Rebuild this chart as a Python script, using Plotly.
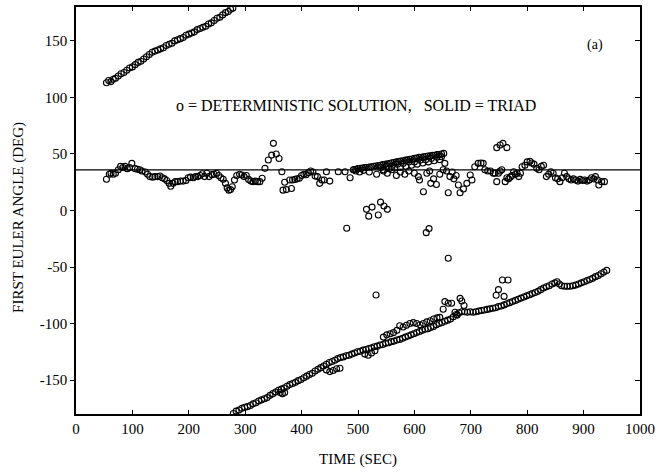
import plotly.graph_objects as go

# ---- data (time in sec, first Euler angle in deg) ----
upper_t = [54, 58, 62, 66, 70, 75, 80, 85, 90, 95, 100, 105, 110, 115, 120, 125, 130,
           135, 140, 145, 150, 155, 160, 165, 170, 175, 180, 185, 190, 195, 200, 205,
           210, 215, 220, 225, 230, 235, 240, 245, 250, 255, 260, 265, 270, 274, 278]
upper_deg = [113, 115, 114, 116, 117, 119, 121, 122, 124, 126, 127, 129, 131, 132, 134,
             136, 138, 140, 141, 142, 143, 144, 146, 147, 148, 150, 151, 152, 153, 155,
             156, 157, 158, 160, 161, 162, 163, 165, 166, 168, 170, 171, 173, 175, 176,
             178, 179]

mid_t = [54, 59, 62, 66, 70, 75, 79, 83, 87, 91, 95, 99, 105, 109, 113, 117, 123, 127,
         131, 136, 140, 145, 149, 153, 157, 161, 165, 168, 172, 176, 180, 185, 190, 195,
         199, 203, 208, 212, 216, 220, 224, 228, 232, 236, 241, 245, 249, 253, 257, 261,
         265, 268, 271, 274, 277, 281, 285, 290, 294, 298, 302, 306, 310, 314, 318, 322,
         326, 330, 335, 341, 347, 350, 355, 360, 365, 367, 370, 373, 379, 382, 384, 388,
         392, 396, 400, 404, 408, 412, 416, 420, 424, 428, 432, 436, 440, 444, 450, 465,
         477, 486, 492, 496, 503, 510, 520, 533, 545, 552, 560, 568, 575, 583, 590, 600,
         607, 609, 616, 622, 627, 629, 634, 639, 645, 651, 654, 657, 660, 663, 667, 670,
         674, 678, 681, 687, 693, 699, 702, 707, 713, 718, 722, 725, 730, 735, 740, 743,
         746, 749, 752, 755, 761, 764, 767, 770, 773, 776, 779, 782, 785, 788, 791, 796,
         800, 805, 808, 812, 817, 821, 825, 829, 834, 838, 842, 846, 850, 854, 858, 862,
         866, 870, 874, 878, 882, 886, 890, 894, 898, 902, 906, 910, 914, 918, 921, 925,
         927, 932, 937]
mid_deg = [27.6, 32, 33, 32, 33, 36, 39, 38, 39, 37, 38, 41.7, 37, 36.5, 36, 35, 34, 32,
           30, 29.5, 30, 30, 30.5, 29, 28, 26.5, 24, 21.5, 24, 25.5, 25.5, 26, 26, 26.5,
           29, 29.5, 29, 30, 30, 31, 32.5, 30, 33, 30, 31.7, 32, 33, 31, 29, 27.6,
           24, 20, 18, 18.5, 21, 27, 31, 32, 31.4, 30, 31, 27.5, 26, 25.5, 26, 25.5,
           25.5, 28.5, 37.3, 44.7, 49, 59.4, 50, 46, 34.3, 18, 25, 18.5, 27, 19.4, 27, 27.5,
           28, 28.5, 31, 32, 31.7, 33.5, 35, 34, 30.5, 30, 24, 27, 27, 34.3, 26, 34.3,
           34.3, 29, 36, 35, 34, 35.5, 34, 32, 35, 33, 36, 31, 34, 32, 35, 33,
           30, 27, 16.6, 33, 35, 24, 28, 23, 32, 36, 41.7, 35, 15.7, 30, 34, 28,
           31, 22.5, 15.7, 19, 24, 31.4, 27, 38.7, 41.7, 42, 41.7, 36, 35, 35, 33, 32.9,
           25.5, 33, 35, 36, 25.5, 29, 28, 29.5, 31, 34.3, 32, 33, 30, 33, 38.7, 40,
           43, 43.5, 42, 41, 37.3, 36, 39, 40, 30, 32, 34.3, 33, 29, 28, 25.5, 29,
           33, 30, 28, 27, 28, 27, 26, 27.5, 26.5, 27, 26, 27, 29, 28, 30, 27,
           22.5, 25.5, 25.5]

# rising dense band between 490 and 655 s
band_t = [492, 496, 500, 504, 508, 512, 516, 520, 524, 528, 532, 536, 540, 544, 548, 552,
          556, 560, 564, 568, 572, 576, 580, 584, 588, 592, 596, 600, 604, 608, 612, 616,
          620, 624, 628, 632, 636, 640, 644, 648, 652,
          540, 550, 560, 570, 580, 590, 600, 610, 620, 630, 640, 648,
          545, 555, 565, 575, 585, 595, 605, 615, 625, 635, 645]
band_deg = [36, 36.5, 37, 37.4, 37.5, 38, 38, 38.5, 38.6, 39.2, 39.3, 39.8, 40, 40.6, 40.8,
            41.4, 41.6, 42.2, 42.4, 43, 43.2, 43.8, 44, 44.6, 44.8, 45.3, 45.6, 46.2, 46.4,
            47, 47.1, 47.6, 47.7, 48.2, 48.3, 48.8, 48.9, 49.4, 49.5, 50, 50.5,
            38, 39, 39, 41, 41.5, 43, 43, 44.5, 45, 46, 47, 47.5,
            36, 37, 37.5, 38, 39, 40, 41, 42, 43, 44, 45]

# isolated points
odd_t = [480, 515, 519, 525, 536, 540, 546, 552, 621, 626, 660, 532,
         746, 752, 757, 764]
odd_deg = [-15.7, 1, -5, 3, -4, 7.4, 4, 1, -19.6, -16, -42.3, -74.7,
           55.6, 58, 59.4, 55.6]

lower_t = [279, 284, 289, 294, 299, 304, 309, 314, 319, 324, 329, 334, 339, 344, 349,
           354, 359, 364, 369, 374, 379, 384, 389, 394, 399, 404, 409, 414, 419, 424,
           429, 434, 439, 444, 449, 454, 459, 464, 469, 474, 479, 484, 489, 494, 499,
           504, 509, 514, 519, 524, 529, 534, 539, 544, 549, 554, 559, 564, 569, 574,
           579, 584, 589, 594, 599, 604, 609, 614, 619, 624, 629, 634, 639, 644, 649,
           654, 659, 664, 669, 674, 679, 684, 689, 694, 699, 704, 709, 714, 719, 724,
           729, 734, 739, 744, 749, 754, 759, 764, 769, 774, 779, 784, 789, 794, 799,
           804, 809, 814, 819, 824, 829, 834, 839, 844, 849, 853, 857, 861, 866, 871,
           876, 881, 886, 891, 896, 901, 906, 911, 916, 921, 926, 931, 936, 941]
lower_deg = [-179.5, -177.5, -176.5, -175, -174, -173.5, -172.5, -171, -170, -168.5,
             -167.5, -166.5, -165.5, -163.5, -162, -160.5, -159, -158, -157, -155.5,
             -154, -153, -152, -150.5, -149.5, -148, -146.5, -145, -144, -142,
             -140.5, -139, -137.5, -136, -134.5, -133.5, -132.5, -131, -130, -129.5,
             -128.5, -128, -127, -126, -125, -124.5, -123.5, -123, -122, -121.5,
             -120.5, -120, -119, -118.5, -117.5, -117, -116, -115.5, -114.5, -114,
             -113, -112, -111, -110, -109, -108, -107, -106, -105, -104.5,
             -103.5, -102.5, -101, -100, -99, -98, -97, -96, -94, -92,
             -90.5, -89.5, -89.5, -90, -89.5, -90, -89.5, -89, -88.5, -88,
             -87.5, -87, -86.5, -86, -85, -84.5, -83.5, -82.5, -81.5, -80.5,
             -79.5, -78.5, -77.5, -76.5, -75.5, -74.5, -73.5, -72.5, -71.5, -70,
             -68.5, -67.5, -66.5, -65, -64, -63, -65, -66.5, -67, -67,
             -67, -66.5, -66, -65, -64, -63, -62, -61, -60, -58.5,
             -57.5, -56, -54.5, -53]

# offset second track in the lower branch
track2_t = [362, 366, 370, 444, 450, 456, 462, 468, 512, 518, 524, 530,
            545, 551, 557, 563, 569, 574, 580, 586, 592, 598, 604, 610, 616, 622,
            628, 634, 640, 645, 651, 654, 660, 666, 672, 676, 681, 684, 688,
            745, 749, 756, 759, 766]
track2_deg = [-161, -162, -161, -141, -142.5, -141.5, -140, -139.5, -127, -128, -126, -124,
              -112, -110, -109, -108, -106, -102, -103, -101.5, -100, -99.2, -100, -101,
              -100, -98.5, -97.5, -96, -95, -94.5, -87.4, -80.6, -82, -82, -90, -92.5,
              -77.7, -80, -84,
              -75, -70, -61.5, -76, -61.5]

triad_t = [0, 1000]
triad_deg = [36, 36]

x_ticks = [0, 100, 200, 300, 400, 500, 600, 700, 800, 900, 1000]
y_ticks = [-150, -100, -50, 0, 50, 100, 150]

FONT = "Liberation Serif"

pts_t = upper_t + mid_t + band_t + odd_t + lower_t + track2_t
pts_deg = upper_deg + mid_deg + band_deg + odd_deg + lower_deg + track2_deg

fig = go.Figure()
fig.add_trace(go.Scatter(
    x=triad_t, y=triad_deg, mode="lines",
    line=dict(color="black", width=1.3), showlegend=False, name="TRIAD"))
fig.add_trace(go.Scatter(
    x=pts_t, y=pts_deg, mode="markers",
    marker=dict(symbol="circle-open", size=6, color="black", line=dict(width=1.1)),
    showlegend=False, name="DETERMINISTIC"))
# invisible trace to drive the right-hand axis
fig.add_trace(go.Scatter(x=[0], y=[0], yaxis="y2", mode="markers",
                         marker=dict(opacity=0), showlegend=False, hoverinfo="skip"))

fig.add_annotation(x=496, y=93, xref="x", yref="y",
                   text="o = DETERMINISTIC SOLUTION,   SOLID = TRIAD",
                   showarrow=False, font=dict(family=FONT, size=16, color="black"))
fig.add_annotation(x=920, y=146, xref="x", yref="y", text="(a)",
                   showarrow=False, font=dict(family=FONT, size=14, color="black"))
# axis titles
fig.add_annotation(x=0.5, y=-0.113, xref="paper", yref="paper", text="TIME (SEC)",
                   showarrow=False, xanchor="center", yanchor="middle",
                   font=dict(family=FONT, size=15, color="black"))
fig.add_annotation(x=-0.103, y=0.484, xref="paper", yref="paper",
                   text="FIRST EULER ANGLE (DEG)", textangle=-90,
                   showarrow=False, xanchor="center", yanchor="middle",
                   font=dict(family=FONT, size=15, color="black"))

fig.update_layout(
    width=658, height=473,
    margin=dict(l=76, r=18, t=7, b=59, autoexpand=False),
    paper_bgcolor="white", plot_bgcolor="white",
    font=dict(family=FONT, size=15, color="black"),
    xaxis=dict(range=[0, 1000], tickvals=x_ticks, ticktext=[str(v) for v in x_ticks],
               ticks="inside", ticklen=4, tickcolor="black", mirror="ticks",
               showline=True, linecolor="black", linewidth=1.5, showgrid=False,
               zeroline=False, automargin=False),
    yaxis=dict(range=[-180, 180], tickvals=y_ticks, ticktext=[str(v) for v in y_ticks],
               ticks="outside", ticklen=4, tickcolor="black", mirror=True,
               showline=True, linecolor="black", linewidth=1.5, showgrid=False,
               zeroline=False, automargin=False),
    yaxis2=dict(range=[-180, 180], overlaying="y", side="right", tickvals=y_ticks,
                ticks="inside", ticklen=5, tickcolor="black", showticklabels=False,
                showgrid=False, zeroline=False, showline=False, automargin=False),
)

fig.write_html("out.html", config={"displayModeBar": False},
               post_script="document.body.style.margin='0';document.body.style.overflow='hidden';")
